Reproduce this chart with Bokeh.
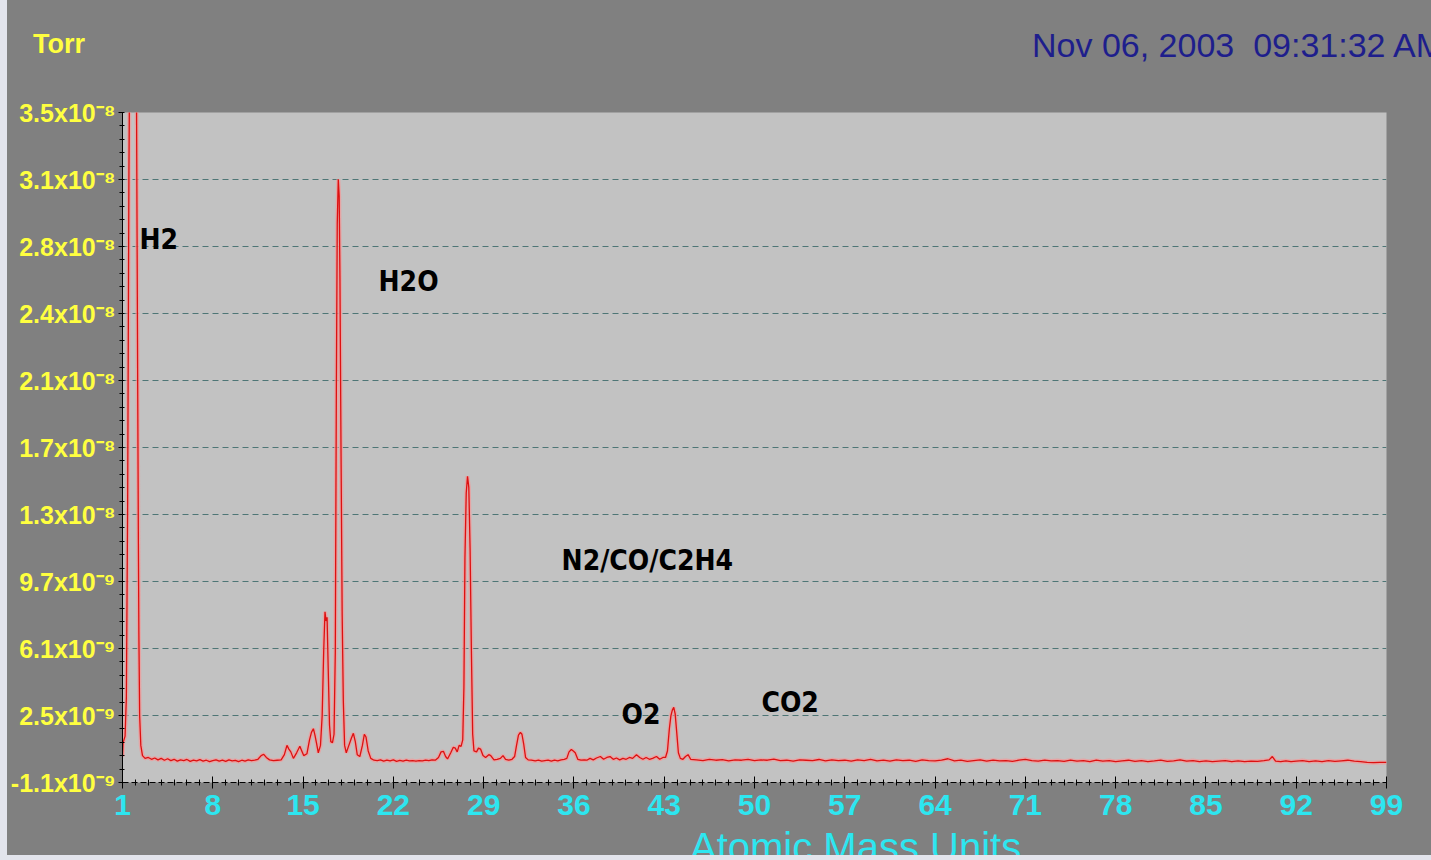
from bokeh.plotting import figure
from bokeh.layouts import column, row
from bokeh.models import Range1d, FixedTicker, ColumnDataSource, Div
from bokeh.embed import file_html
from bokeh.resources import INLINE
from bokeh.core.properties import value

# RGA mass scan, pressure in units of 1e-9 Torr
scan_amu = [
    1.00, 1.05, 1.20, 1.30, 1.40, 1.50, 1.62, 1.75, 1.85, 1.95, 2.05, 2.12, 2.18, 2.23, 2.27, 2.33, 2.42, 2.55, 2.75,
    3.00, 3.25, 3.50, 3.75, 4.00, 4.25, 4.50, 4.75, 5.00, 5.25, 5.50, 5.75, 6.00, 6.25, 6.50, 6.75, 7.00, 7.25, 7.50,
    7.75, 8.00, 8.25, 8.50, 8.75, 9.00, 9.25, 9.50, 9.75, 10.00, 10.25, 10.50, 10.75, 11.00, 11.25, 11.50, 11.75,
    11.95, 12.15, 12.40, 12.70, 13.00, 13.30, 13.55, 13.75, 13.90, 14.05, 14.25, 14.50, 14.75, 14.90, 15.05, 15.30,
    15.50, 15.65, 15.80, 15.92, 16.05, 16.18, 16.35, 16.48, 16.60, 16.70, 16.78, 16.86, 16.95, 17.05, 17.15, 17.28,
    17.40, 17.50, 17.58, 17.65, 17.73, 17.80, 17.86, 17.94, 18.03, 18.12, 18.22, 18.35, 18.55, 18.75, 18.90, 19.05,
    19.20, 19.40, 19.60, 19.75, 19.88, 20.05, 20.25, 20.50, 20.75, 21.00, 21.25, 21.50, 21.75, 22.00, 22.25, 22.50,
    22.75, 23.00, 23.25, 23.50, 23.75, 24.00, 24.25, 24.50, 24.75, 25.00, 25.25, 25.50, 25.70, 25.88, 26.05, 26.20,
    26.45, 26.65, 26.80, 26.95, 27.10, 27.25, 27.38, 27.47, 27.55, 27.65, 27.75, 27.85, 27.95, 28.05, 28.15, 28.25,
    28.45, 28.60, 28.76, 28.95, 29.15, 29.40, 29.55, 29.80, 30.05, 30.30, 30.50, 30.70, 30.95, 31.20, 31.40, 31.55,
    31.70, 31.85, 31.97, 32.10, 32.25, 32.45, 32.70, 33.00, 33.25, 33.50, 33.75, 34.00, 34.25, 34.50, 34.75, 35.00,
    35.25, 35.45, 35.62, 35.80, 35.95, 36.10, 36.30, 36.55, 36.80, 37.00, 37.25, 37.50, 37.75, 38.05, 38.30, 38.55,
    38.80, 39.05, 39.30, 39.55, 39.80, 40.05, 40.30, 40.55, 40.85, 41.10, 41.35, 41.60, 41.85, 42.10, 42.40, 42.65,
    42.90, 43.10, 43.25, 43.40, 43.52, 43.63, 43.74, 43.85, 43.97, 44.10, 44.25, 44.45, 44.65, 44.85, 45.05, 45.50,
    46.0, 46.5, 47.0, 47.5, 48.0, 48.5, 49.0, 49.5, 50.0, 50.5, 51.0, 51.5, 52.0, 52.5, 53.0, 53.5, 54.0, 54.5,
    55.0, 55.5, 56.0, 56.5, 57.0, 57.5, 58.0, 58.5, 59.0, 59.5, 60.0, 60.5, 61.0, 61.5, 62.0, 62.5, 63.0, 63.5,
    64.0, 64.5, 65.0, 65.5, 66.0, 66.5, 67.0, 67.5, 68.0, 68.5, 69.0, 69.5, 70.0, 70.5, 71.0, 71.5, 72.0, 72.5,
    73.0, 73.5, 74.0, 74.5, 75.0, 75.5, 76.0, 76.5, 77.0, 77.5, 78.0, 78.5, 79.0, 79.5, 80.0, 80.5, 81.0, 81.5,
    82.0, 82.5, 83.0, 83.5, 84.0, 84.5, 85.0, 85.5, 86.0, 86.5, 87.0, 87.5, 88.0, 88.5, 89.0, 89.5, 89.9, 90.15,
    90.4, 90.8, 91.2, 91.6, 92.0, 92.5, 93.0, 93.5, 94.0, 94.5, 95.0, 95.5, 96.0, 96.5, 97.0, 97.5, 98.0, 98.5, 99.0,
]
scan_ntorr = [
    0.30, 1.05, 1.4, 3.5, 14, 32, 45, 52, 54, 50, 42, 30, 20, 12, 6.9, 2.5, 0.9, 0.35, 0.2,
    0.25, 0.15, 0.22, 0.12, 0.2, 0.1, 0.18, 0.08, 0.15, 0.05, 0.12, 0.08, 0.14, 0.04, 0.1, 0.06, 0.13, 0.05, 0.1,
    0.03, 0.08, 0.12, 0.05, 0.1, 0.04, 0.12, 0.06, 0.09, 0.02, 0.1, 0.05, 0.12, 0.08, 0.1, 0.15, 0.35,
    0.42, 0.25, 0.12, 0.08, 0.1, 0.12, 0.4, 0.9, 0.7, 0.55, 0.2, 0.5, 0.85, 0.6, 0.35, 0.45,
    1.2, 1.6, 1.8, 1.45, 1.0, 0.5, 0.9, 2.5, 6.0, 8.1, 7.6, 7.8, 5.0, 2.0, 1.1, 1.05,
    1.5, 6, 20, 29, 31.4, 30.5, 26, 17, 8, 3.3, 0.9, 0.5, 0.9, 1.3, 1.55, 1.1,
    0.4, 0.3, 0.9, 1.5, 1.35, 0.6, 0.2, 0.1, 0.08, 0.12, 0.05, 0.1, 0.06, 0.12, 0.04, 0.09,
    0.05, 0.1, 0.06, 0.08, 0.05, 0.08, 0.06, 0.1, 0.08, 0.12, 0.1, 0.25, 0.55, 0.58, 0.3, 0.17,
    0.5, 0.8, 0.75, 0.55, 0.9, 0.85, 1.2, 4, 11, 14.5, 15.4, 14.8, 11.5, 6, 1.5, 0.6,
    0.55, 0.75, 0.7, 0.35, 0.25, 0.4, 0.35, 0.12, 0.15, 0.2, 0.35, 0.15, 0.1, 0.15, 0.3, 0.9,
    1.45, 1.6, 1.5, 1.0, 0.25, 0.12, 0.1, 0.06, 0.1, 0.05, 0.08, 0.1, 0.05, 0.1, 0.06, 0.12,
    0.15, 0.2, 0.55, 0.68, 0.6, 0.5, 0.15, 0.1, 0.12, 0.1, 0.2, 0.12, 0.22, 0.3, 0.15, 0.25,
    0.3, 0.15, 0.22, 0.12, 0.2, 0.15, 0.25, 0.2, 0.4, 0.25, 0.15, 0.25, 0.15, 0.2, 0.3, 0.15,
    0.25, 0.25, 0.6, 1.8, 2.5, 2.8, 2.95, 2.6, 1.6, 0.5, 0.2, 0.15, 0.3, 0.4, 0.15, 0.12,
    0.08, 0.15, 0.1, 0.13, 0.06, 0.12, 0.1, 0.15, 0.08, 0.12, 0.1, 0.16, 0.08, 0.1, 0.05, 0.12, 0.1, 0.08,
    0.14, 0.06, 0.12, 0.08, 0.1, 0.05, 0.12, 0.08, 0.15, 0.06, 0.1, 0.05, 0.12, 0.08, 0.1, 0.04, 0.12, 0.08,
    0.06, 0.1, 0.18, 0.06, 0.1, 0.04, 0.08, 0.12, 0.05, 0.1, 0.06, 0.08, 0.04, 0.1, 0.15, 0.08, 0.05, 0.1,
    0.06, 0.08, 0.04, 0.1, 0.05, 0.08, 0.03, 0.1, 0.05, 0.08, 0.03, 0.07, 0.1, 0.04, 0.08, 0.03, 0.06, 0.1,
    0.04, 0.07, 0.12, 0.05, 0.08, 0.03, 0.06, 0.02, 0.05, 0.08, 0.03, 0.06, 0.02, 0.05, 0.04, 0.08, 0.12, 0.3,
    0.05, 0.03, 0.07, 0.02, 0.05, 0.08, 0.03, 0.06, 0.02, 0.08, 0.04, 0.07, 0.1, 0.05, 0.02, -0.02, -0.03, -0.02, -0.02,
]

# axis ticks
x_ticks = [1, 8, 15, 22, 29, 36, 43, 50, 57, 64, 71, 78, 85, 92, 99]
y_ticks = [-1.1, 2.51, 6.12, 9.73, 13.34, 16.95, 20.56, 24.17, 27.78, 31.39, 35.0]
y_tick_labels = ["-1.1x10\u207b\u2079", "2.5x10\u207b\u2079", "6.1x10\u207b\u2079", "9.7x10\u207b\u2079",
                 "1.3x10\u207b\u2078", "1.7x10\u207b\u2078", "2.1x10\u207b\u2078", "2.4x10\u207b\u2078",
                 "2.8x10\u207b\u2078", "3.1x10\u207b\u2078", "3.5x10\u207b\u2078"]

# peak annotations
species = ["H2", "H2O", "N2/CO/C2H4", "O2", "CO2"]
species_amu = [2.32, 20.85, 35.04, 39.69, 50.54]
species_ntorr = [28.16, 25.9, 10.86, 2.56, 3.21]

X_MIN, X_MAX = 1, 99
Y_MIN, Y_MAX = -1.1, 35.0

PANEL = "#808080"
PAGE = "#e2e4ec"
W = 1424          # instrument panel width; a thin page strip sits on its left
HEAD_H = 92
FOOT_H = 30
MAIN_H = 860 - HEAD_H - FOOT_H
TOP_PAD = 20
FRAME_H = 670

# page strip on the left edge
strip = Div(text="", width=7, height=860, margin=0, styles={"background-color": PAGE})

# header: unit and timestamp
head_html = (
    '<div style="position:relative;width:%dpx;height:%dpx;overflow:hidden;margin:0;padding:0;">'
    '<span style="position:absolute;left:26px;top:31px;font:bold 27px/27px \'Liberation Sans\',sans-serif;'
    'color:#ffff40;white-space:pre;">Torr</span>'
    '<span style="position:absolute;left:1025px;top:28px;font:34px/34px \'Liberation Sans\',sans-serif;'
    'color:#1e1e8c;white-space:pre;">Nov 06, 2003  09:31:32 AM</span>'
    '</div>' % (W, HEAD_H)
)
head = Div(text=head_html, width=W, height=HEAD_H, margin=0,
           styles={"background-color": PANEL, "overflow": "hidden"})

# main spectrum plot
p = figure(width=W, height=MAIN_H, output_backend="svg", toolbar_location=None,
           x_range=Range1d(X_MIN, X_MAX), y_range=Range1d(Y_MIN, Y_MAX),
           min_border_left=115, min_border_right=45, min_border_top=TOP_PAD,
           min_border_bottom=MAIN_H - TOP_PAD - FRAME_H)
p.background_fill_color = "#c2c2c2"
p.border_fill_color = PANEL
p.outline_line_color = None

src = ColumnDataSource(dict(amu=scan_amu, ntorr=scan_ntorr))
p.line("amu", "ntorr", source=src, line_color="#f29a9a", line_width=4, line_alpha=0.75)
p.line("amu", "ntorr", source=src, line_color="#dd1010", line_width=1.3)

lab_src = ColumnDataSource(dict(x=species_amu, y=species_ntorr, t=species))
p.text("x", "y", text="t", source=lab_src, text_font=value("DejaVu Sans Condensed"),
       text_font_style="bold", text_font_size="28px", text_color="black",
       text_align="left", text_baseline="middle")

# x axis
minor_x = [m for m in range(X_MIN, X_MAX + 1) if m not in x_ticks]
p.xaxis.ticker = FixedTicker(ticks=x_ticks, minor_ticks=minor_x)
p.xaxis.axis_line_color = "black"
p.xaxis.axis_line_dash = "6 3"
p.xaxis.major_tick_line_color = "black"
p.xaxis.minor_tick_line_color = "black"
p.xaxis.major_tick_in = 6
p.xaxis.major_tick_out = 6
p.xaxis.minor_tick_in = 3
p.xaxis.minor_tick_out = 3
p.xaxis.major_label_standoff = 6
p.xaxis.major_label_text_color = "#2de6f0"
p.xaxis.major_label_text_font = "Liberation Sans"
p.xaxis.major_label_text_font_style = "bold"
p.xaxis.major_label_text_font_size = "30px"

# y axis
step = (y_ticks[1] - y_ticks[0]) / 5
minor_y = [y_ticks[i] + k * step for i in range(len(y_ticks) - 1) for k in range(1, 5)]
p.yaxis.ticker = FixedTicker(ticks=y_ticks, minor_ticks=minor_y)
p.yaxis.major_label_overrides = dict(zip(y_ticks, y_tick_labels))
p.yaxis.axis_line_color = "black"
p.yaxis.major_tick_line_color = "black"
p.yaxis.minor_tick_line_color = "black"
p.yaxis.major_tick_in = 2
p.yaxis.major_tick_out = 4
p.yaxis.minor_tick_in = 2
p.yaxis.minor_tick_out = 3
p.yaxis.major_label_standoff = 3
p.yaxis.major_label_text_color = "#ffff40"
p.yaxis.major_label_text_font = "Liberation Sans"
p.yaxis.major_label_text_font_style = "bold"
p.yaxis.major_label_text_font_size = "25px"

p.xgrid.visible = False
p.ygrid.ticker = FixedTicker(ticks=y_ticks[1:])
p.ygrid.grid_line_color = "#4e7676"
p.ygrid.grid_line_dash = "6 4"
p.ygrid.grid_line_width = 1

# footer: axis title, with the page showing below the panel
foot_html = (
    '<div style="position:relative;width:%dpx;height:%dpx;overflow:hidden;margin:0;padding:0;">'
    '<span style="position:absolute;left:683px;top:-3px;font:40px/40px \'Liberation Sans\',sans-serif;'
    'color:#2de6f0;white-space:pre;">Atomic Mass Units</span>'
    '<div style="position:absolute;left:0;top:%dpx;width:%dpx;height:5px;background:%s;"></div>'
    '</div>' % (W, FOOT_H, FOOT_H - 5, W, PAGE)
)
foot = Div(text=foot_html, width=W, height=FOOT_H, margin=0,
           styles={"background-color": PANEL, "overflow": "hidden"})

panel = column(head, p, foot, spacing=0, styles={"background-color": PANEL})
layout = row(strip, panel, spacing=0, styles={"background-color": PAGE})
open("out.html", "w").write(file_html(layout, INLINE))
